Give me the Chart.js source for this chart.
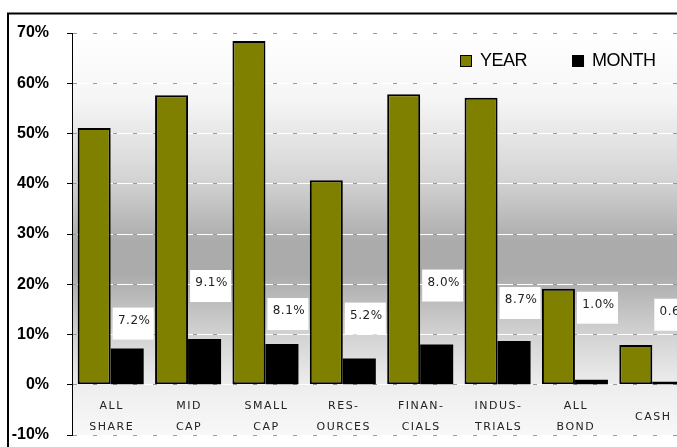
<!DOCTYPE html>
<html>
<head>
<meta charset="utf-8">
<script src="https://cdn.jsdelivr.net/npm/chart.js@4/dist/chart.umd.min.js"></script>
<style>
  html, body { margin: 0; padding: 0; overflow: hidden; background: #fff; }
  #wrap { position: absolute; left: 0; top: 0; width: 700px; height: 447px; }
</style>
</head>
<body>
<div id="wrap"><canvas id="perfChart" width="700" height="447"></canvas></div>
<script>
const categories = [
    ['ALL', 'SHARE'], ['MID', 'CAP'], ['SMALL', 'CAP'], ['RES-', 'OURCES'],
    ['FINAN-', 'CIALS'], ['INDUS-', 'TRIALS'], ['ALL', 'BOND'], ['CASH']
];
const yearValues = [51.1, 57.6, 68.4, 40.7, 57.8, 57.1, 19.1, 7.9];
const monthValues = [7.2, 9.1, 8.1, 5.2, 8.0, 8.7, 1.0, 0.6];
const yTicks = [-10, 0, 10, 20, 30, 40, 50, 60, 70];

// how far above each MONTH bar its value box sits (px)
const labelLift = [25, 53, 30, 40, 59, 38, 72, 67];

const frame = {
    id: 'frame',
    beforeDraw(chart) {
        const { ctx, chartArea: a } = chart;
        const g = ctx.createLinearGradient(0, a.top, 0, a.bottom);
        g.addColorStop(0, '#ffffff');
        g.addColorStop(0.17, '#f5f5f5');
        g.addColorStop(0.37, '#d2d2d2');
        g.addColorStop(0.52, '#ababab');
        g.addColorStop(0.6, '#ababab');
        g.addColorStop(0.75, '#d2d2d2');
        g.addColorStop(0.88, '#eeeeee');
        g.addColorStop(1, '#f8f8f8');
        ctx.save();
        ctx.fillStyle = g;
        ctx.fillRect(a.left, a.top - 18, a.right - a.left, a.bottom - a.top + 18);
        ctx.restore();
    },
    afterDraw(chart) {
        const { ctx, chartArea: a } = chart;
        const x = chart.scales.x, y = chart.scales.y;
        ctx.save();
        // outer box
        ctx.strokeStyle = '#000';
        ctx.lineWidth = 2;
        ctx.strokeRect(8, 13.5, 760, 500);

        // category labels under the zero line
        ctx.fillStyle = '#222';
        ctx.font = '11px "DejaVu Sans"';
        ctx.letterSpacing = '1.5px';
        ctx.textAlign = 'center';
        ctx.textBaseline = 'middle';
        const mid = (y.getPixelForValue(0) + y.getPixelForValue(-10)) / 2 + 7;
        categories.forEach((lines, i) => {
            const cx = x.getPixelForValue(i);
            const top = mid - (lines.length - 1) * 10.5;
            lines.forEach((t, k) => ctx.fillText(t, cx + 1, top + k * 21));
        });

        // legend
        ctx.letterSpacing = '-0.5px';
        ctx.font = '18px "Liberation Sans", Arial';
        ctx.textAlign = 'left';
        let lx = a.right - 231;
        const ly = a.top + 28;
        chart.data.datasets.forEach((ds) => {
            ctx.fillStyle = ds.backgroundColor;
            ctx.fillRect(lx, ly - 6, 12, 12);
            ctx.strokeStyle = '#000';
            ctx.lineWidth = 1;
            ctx.strokeRect(lx + 0.5, ly - 5.5, 11, 11);
            ctx.fillStyle = '#000';
            ctx.fillText(ds.label, lx + 20, ly);
            lx += 20 + ctx.measureText(ds.label).width + 45;
        });
        ctx.restore();
    },
    afterDatasetsDraw(chart) {
        const { ctx } = chart;
        const meta = chart.getDatasetMeta(1);
        ctx.save();
        ctx.font = '12px "DejaVu Sans"';
        ctx.letterSpacing = '0.5px';
        ctx.textAlign = 'center';
        ctx.textBaseline = 'middle';
        meta.data.forEach((bar, i) => {
            const cx = bar.x + 6;
            const cy = bar.y - labelLift[i];
            ctx.fillStyle = '#fff';
            ctx.fillRect(cx - 20.5, cy - 16, 41, 32);
            ctx.fillStyle = '#222';
            ctx.fillText(monthValues[i].toFixed(1) + '%', cx + 1, cy - 3);
        });
        ctx.restore();
    }
};

new Chart(document.getElementById('perfChart'), {
    type: 'bar',
    data: {
        labels: categories.map(c => c.join(' ')),
        datasets: [{
            label: 'YEAR',
            data: yearValues,
            backgroundColor: '#808000',
            borderColor: '#000',
            borderWidth: 2,
            borderSkipped: false
        }, {
            label: 'MONTH',
            data: monthValues,
            backgroundColor: '#000',
            borderWidth: 0
        }]
    },
    options: {
        responsive: false,
        animation: false,
        layout: { padding: { top: 33, bottom: 12, left: 0, right: 9 } },
        datasets: { bar: { categoryPercentage: 0.853, barPercentage: 1 } },
        scales: {
            x: { display: false },
            yw: {
                type: 'linear',
                position: 'right',
                min: -10, max: 70,
                ticks: { display: false, stepSize: 10 },
                grid: { color: '#ffffff', drawTicks: false, z: -2 },
                border: { display: false },
                afterFit: s => { s.width = 0; s.paddingTop = 0; s.paddingBottom = 0; }
            },
            y: {
                min: -10, max: 70,
                afterBuildTicks: s => { s.ticks = yTicks.map(v => ({ value: v })); },
                afterFit: s => { s.width = 72; s.paddingTop = 0; s.paddingBottom = 0; },
                ticks: {
                    padding: 18,
                    color: '#000',
                    font: { family: '"Liberation Sans", Arial', size: 16, weight: 'bold' },
                    callback: v => v + '%'
                },
                grid: {
                    color: '#9a9a9a',
                    tickColor: '#000',
                    tickLength: 5,
                    tickBorderDash: [],
                    z: -1
                },
                border: { display: true, color: '#000', width: 1, dash: [4, 16] }
            }
        },
        plugins: {
            legend: { display: false },
            tooltip: { enabled: false }
        }
    },
    plugins: [frame]
});
</script>
</body>
</html>
